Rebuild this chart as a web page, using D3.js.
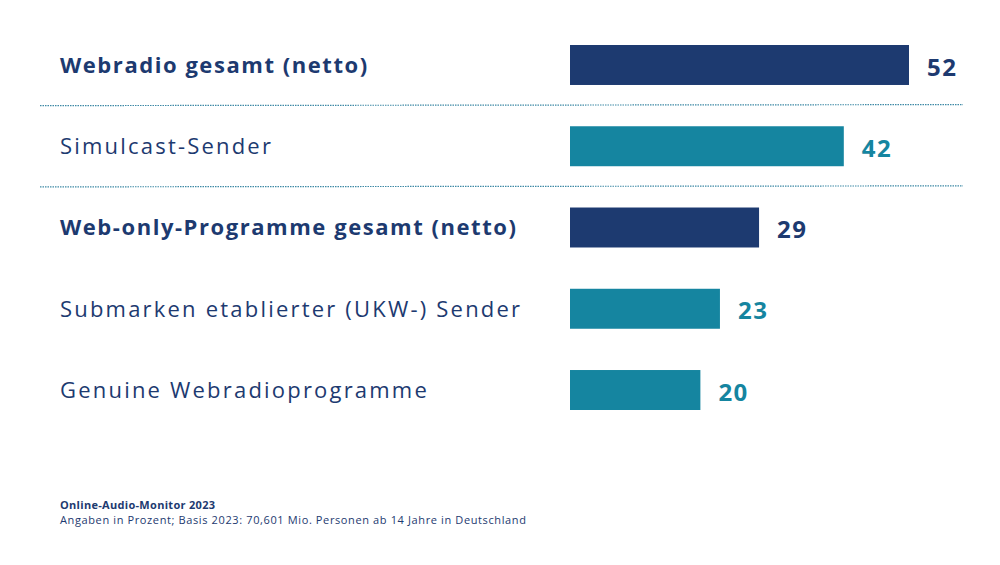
<!DOCTYPE html>
<html><head><meta charset="utf-8">
<script src="https://cdn.jsdelivr.net/npm/d3@7"></script>
<style>body{margin:0;background:#fff}svg{display:block}</style>
</head><body>
<svg id="c" width="1000" height="565"></svg>
<script>
const categories = ["Webradio gesamt (netto)","Simulcast-Sender","Web-only-Programme gesamt (netto)","Submarken etablierter (UKW-) Sender","Genuine Webradioprogramme"];
const values = [52,42,29,23,20];
const isTotal = [true,false,true,false,false];
const separatorsAfter = [0,1];
const footerTitle = "Online-Audio-Monitor 2023";
const footerNote = "Angaben in Prozent; Basis 2023: 70,601 Mio. Personen ab 14 Jahre in Deutschland";

const dark = "#1d3a70", teal = "#1585a0";
const svg = d3.select("#c");
const font = "'Open Sans', sans-serif";

const x = d3.scaleLinear().domain([0,52]).range([570,909]);
const y = d3.scaleBand().domain(d3.range(categories.length)).range([45,410]).paddingInner(0.508).paddingOuter(0);

const g = svg.append("g");
const rows = g.selectAll("g.row").data(categories).join("g").attr("class","row");

rows.append("rect")
  .attr("x", x(0)).attr("y", (d,i)=>y(i))
  .attr("width", (d,i)=>x(values[i])-x(0))
  .attr("height", y.bandwidth())
  .attr("fill", (d,i)=>isTotal[i]?dark:teal);

rows.append("text")
  .attr("x", 60).attr("y", (d,i)=>y(i)+y.bandwidth()/2)
  .attr("dy","0.36em")
  .attr("font-family", font).attr("font-size", 22)
  .attr("font-weight", (d,i)=>isTotal[i]?700:400)
  .attr("letter-spacing", (d,i)=>isTotal[i]?"1.55px":"2.2px")
  .attr("fill", dark)
  .text(d=>d);

rows.append("text")
  .attr("x", (d,i)=>x(values[i]) + 18).attr("y", (d,i)=>y(i)+y.bandwidth()/2 + 2)
  .attr("dy","0.36em")
  .attr("font-family", font).attr("font-size", 24)
  .attr("font-weight", 700)
  .attr("letter-spacing", "1.5px")
  .attr("fill", (d,i)=>isTotal[i]?dark:teal)
  .text((d,i)=>values[i]);

separatorsAfter.forEach(i=>{
  const yy = y(i)+y.bandwidth() + (y.step()-y.bandwidth())/2 - 0.5;
  svg.append("line").attr("x1",40).attr("x2",963).attr("y1",yy+0.5).attr("y2",yy-0.5)
    .attr("stroke","#3f8aa6").attr("stroke-width",1.2).attr("stroke-dasharray","1.5,1");
});

svg.append("text").attr("x",60).attr("y",509).attr("font-family",font).attr("font-size",11)
  .attr("font-weight",700).attr("fill",dark).attr("letter-spacing","0.3px").text(footerTitle);
svg.append("text").attr("x",60).attr("y",524).attr("font-family",font).attr("font-size",11)
  .attr("fill",dark).attr("letter-spacing","0.62px").text(footerNote);
</script>
</body></html>
